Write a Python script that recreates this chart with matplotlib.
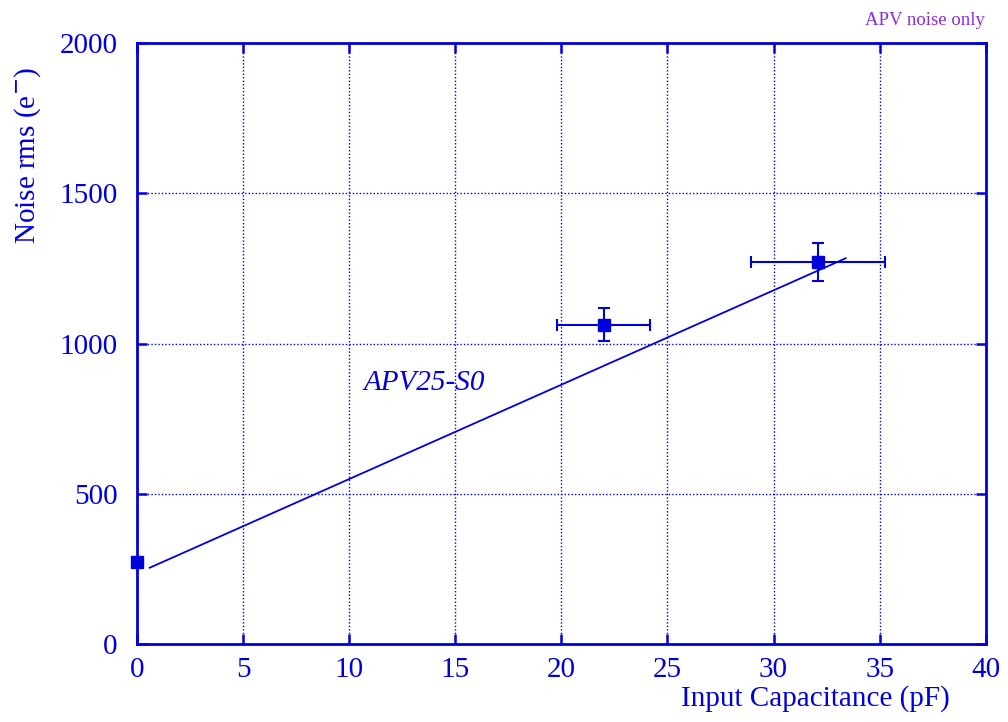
import matplotlib
matplotlib.use("Agg")
import matplotlib.pyplot as plt
import numpy as np

# Data
cap = [0.0, 22.0, 32.1]
noise = [272, 1062, 1270]
cap_err = [0.0, 2.2, 3.15]
noise_err = [0, 55, 63]
fit_intercept = 235.0
fit_slope = 31.4
fit_range = [0.6, 33.4]
xticks = [0, 5, 10, 15, 20, 25, 30, 35, 40]
yticks = [0, 500, 1000, 1500, 2000]

blue = "#0000dd"
purple = "#8a2be2"
plt.rcParams['font.family'] = ['Liberation Serif', 'DejaVu Serif']

fig = plt.figure(figsize=(10.08, 7.22), dpi=100)
ax = fig.add_axes([0.1359, 0.108, 0.842, 0.8324])
ax.set_xlim(0, 40)
ax.set_ylim(0, 2000)

for x in xticks[1:-1]:
    ax.axvline(x, color=blue, lw=1.0, ls=(0, (1, 1.5)), zorder=1)
for y in yticks[1:-1]:
    ax.axhline(y, color=blue, lw=1.0, ls=(0, (1, 1.5)), zorder=1)

fx = np.array(fit_range)
ax.plot(fx, fit_intercept + fit_slope * fx, color=blue, lw=1.3, zorder=2)

ax.errorbar(cap, noise, xerr=cap_err, yerr=noise_err, fmt='s', color=blue,
            ms=9, elinewidth=1.5, capsize=4, capthick=1.5, zorder=3, clip_on=False)

ax.text(10.7, 867, "APV25-S0", color=blue, fontsize=21, style='italic',
        ha='left', va='center')

ax.set_xticks(xticks)
ax.set_yticks(yticks)
ax.tick_params(axis='both', direction='in', length=7, width=1.8, color=blue,
               labelcolor=blue, labelsize=21, top=True, right=True)
ax.tick_params(axis='x', pad=9)
ax.tick_params(axis='y', pad=14)
for s in ax.spines.values():
    s.set_color(blue)
    s.set_linewidth(2)

fig.text(0.027, 0.785, "Noise rms (e$^{-}$)", color=blue, fontsize=21,
         rotation=90, ha='center', va='center')
fig.text(0.942, 0.022, "Input Capacitance (pF)", color=blue, fontsize=21,
         ha='right', va='baseline')
fig.text(0.977, 0.972, "APV noise only", color=purple, fontsize=13.5,
         ha='right', va='center')

fig.savefig("out.png", dpi=100)
